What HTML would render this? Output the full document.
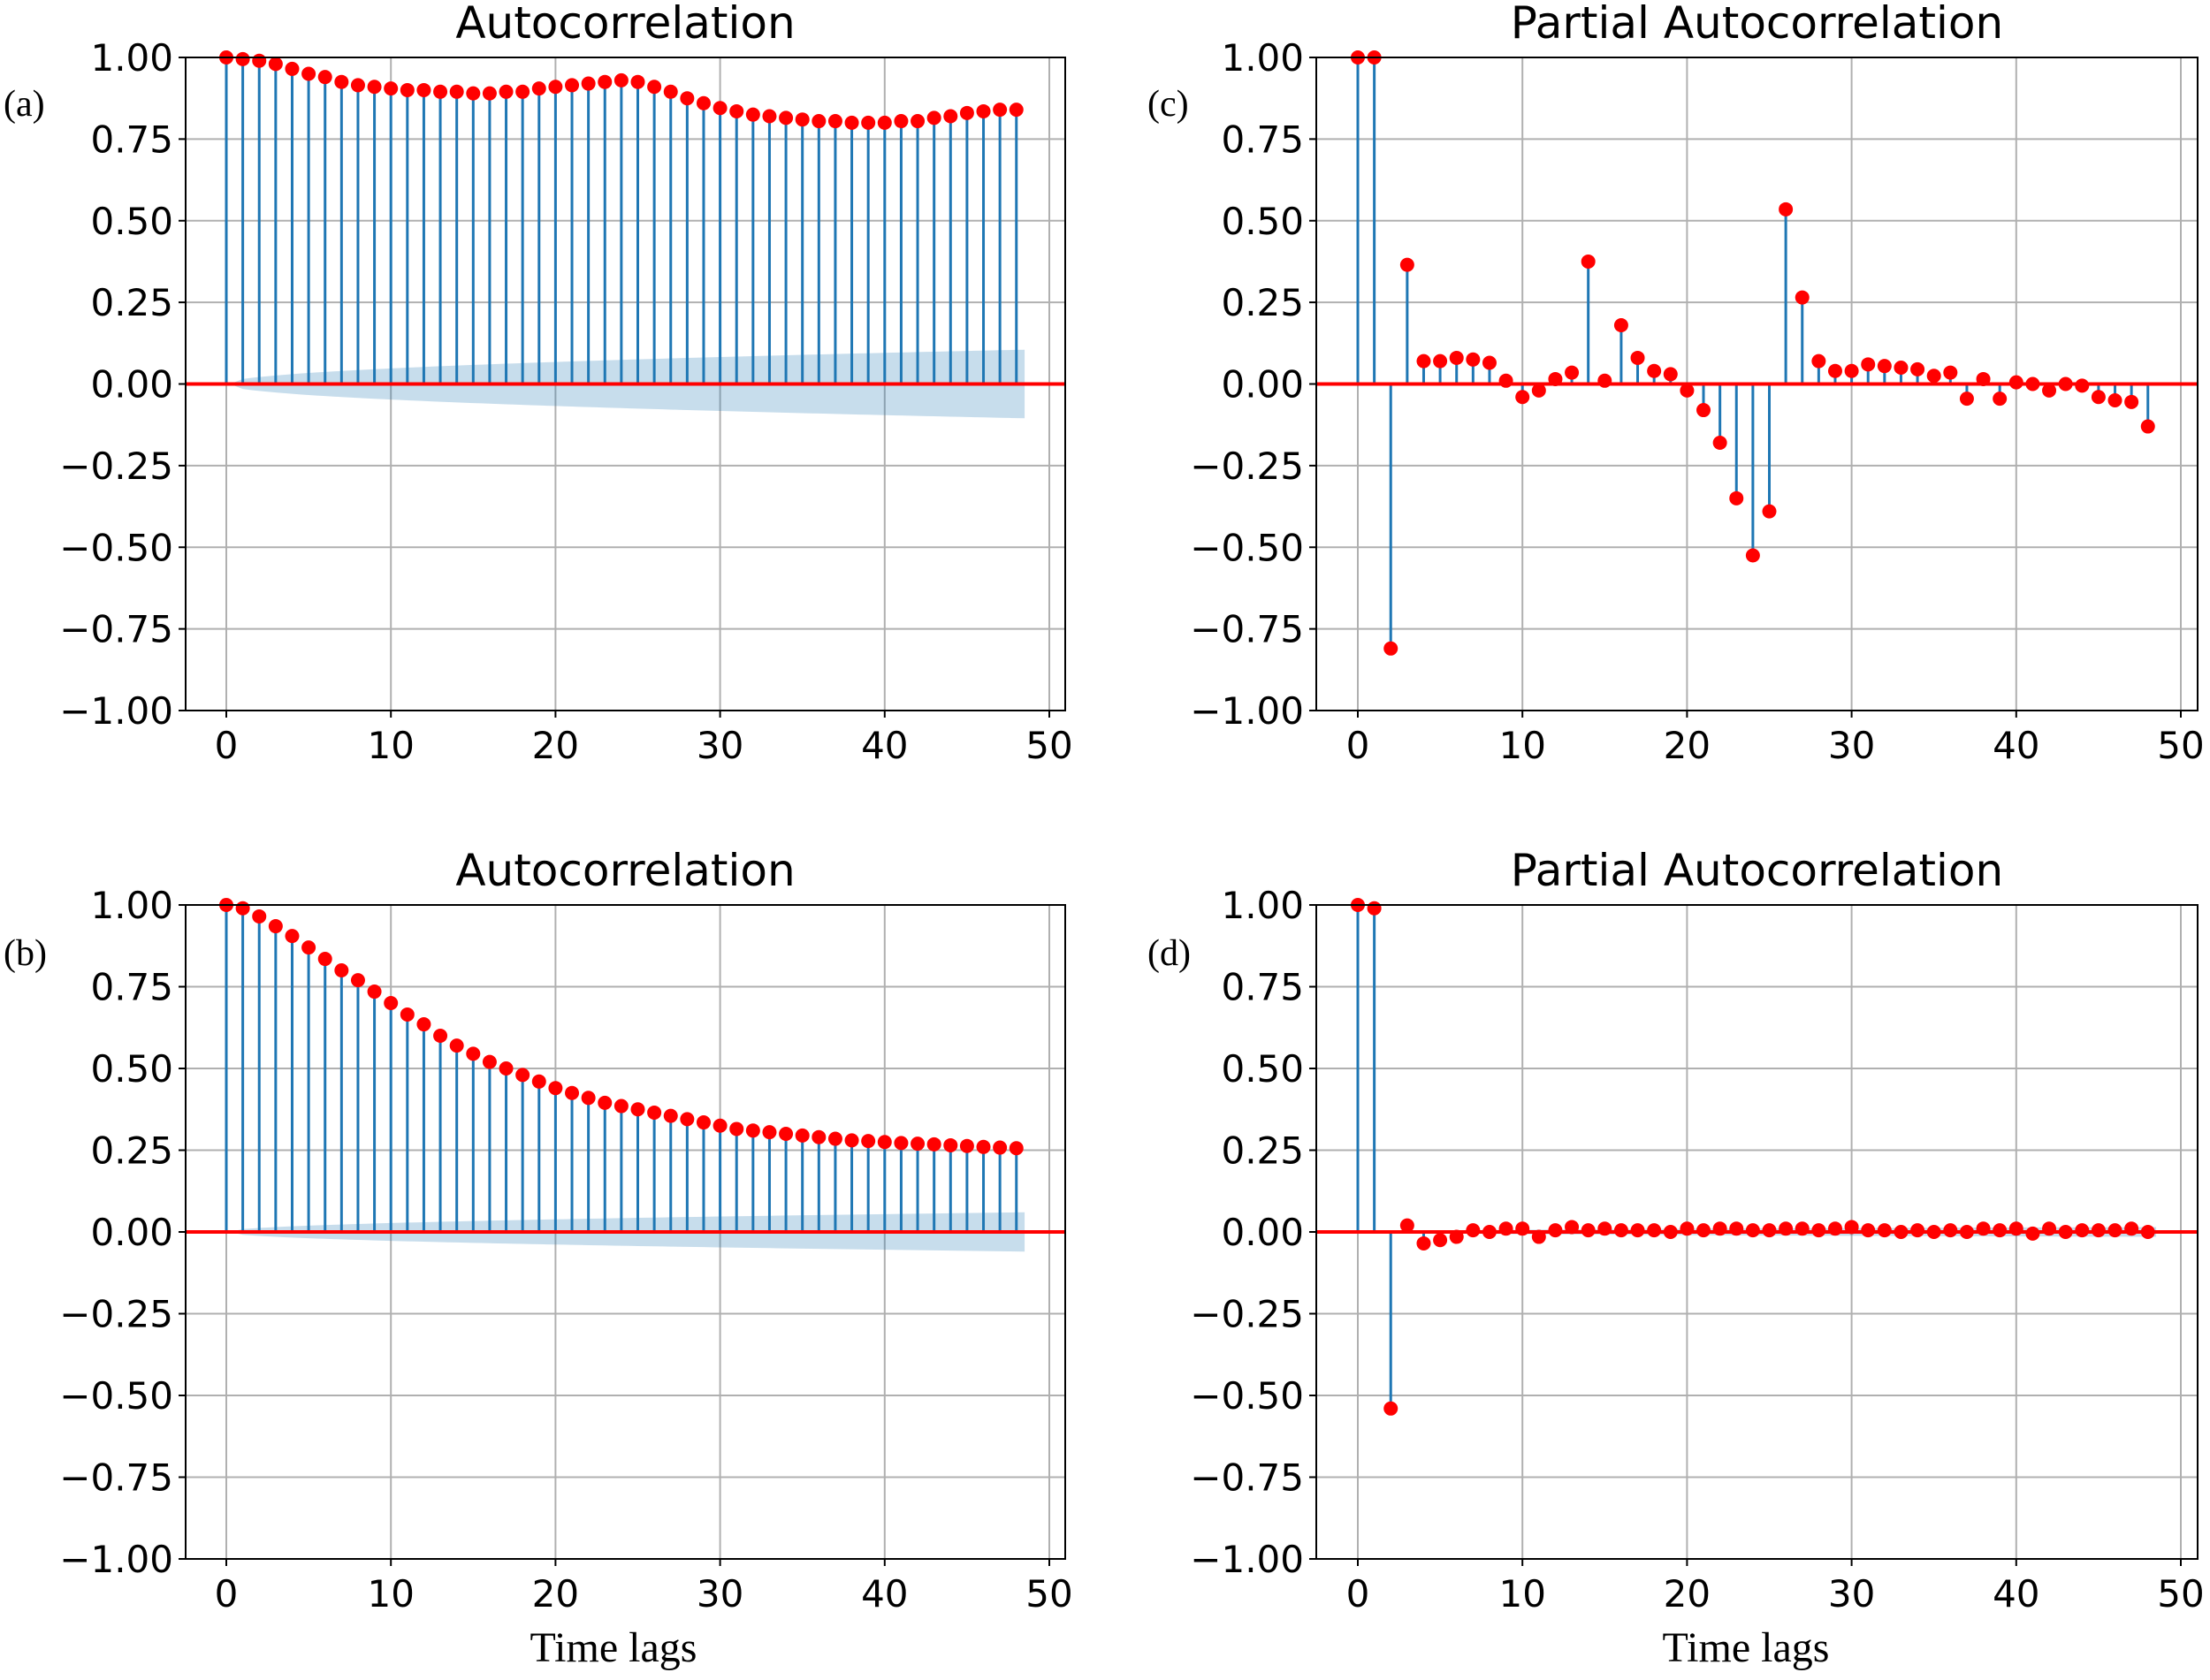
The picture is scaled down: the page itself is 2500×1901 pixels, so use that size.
<!DOCTYPE html>
<html><head><meta charset="utf-8"><style>
html,body{margin:0;padding:0;background:#fff;}
svg{display:block;}
</style></head><body>
<svg id="s" width="2500" height="1901" xmlns="http://www.w3.org/2000/svg"></svg>
<script>
const A=[1.0,.995,.99,.98,.965,.95,.94,.925,.915,.91,.905,.9,.9,.895,.895,.89,.89,.895,.895,.905,.91,.915,.92,.925,.93,.925,.91,.895,.875,.86,.845,.835,.825,.82,.815,.81,.805,.805,.8,.8,.8,.805,.805,.815,.82,.83,.835,.84,.84];
const B=[1.0,.99,.965,.935,.905,.87,.835,.8,.77,.735,.70,.665,.635,.6,.57,.545,.52,.5,.48,.46,.44,.425,.41,.395,.385,.375,.365,.355,.345,.335,.325,.315,.31,.305,.30,.295,.29,.285,.28,.278,.275,.272,.27,.268,.265,.263,.26,.258,.256];
const C=[1.0,1.0,-.81,.365,.07,.07,.08,.075,.065,.01,-.04,-.02,.015,.035,.375,.01,.18,.08,.04,.03,-.02,-.08,-.18,-.35,-.525,-.39,.535,.265,.07,.04,.04,.06,.055,.05,.045,.025,.035,-.045,.015,-.045,.005,0,-.02,0,-.005,-.04,-.05,-.055,-.13];
const D=[1,.99,-.54,.02,-.035,-.025,-.015,.005,0,.01,.01,-.015,.005,.015,.005,.01,.005,.005,.005,0,.01,.005,.01,.01,.005,.005,.01,.01,.005,.01,.015,.005,.005,0,.005,0,.005,0,.01,.005,.01,-.005,.01,0,.005,.005,.005,.01,0];
let h='';
function panel(L,T,R,Bt,x0,x50,data,band,title,lab,labx,laby){
  const sx=v=>x0+(x50-x0)*v/50, sy=v=>T+(Bt-T)*(1-v)/2;
  for(let i=0;i<=5;i++){const x=sx(i*10);h+=`<line x1="${x}" y1="${T}" x2="${x}" y2="${Bt}" stroke="#b0b0b0" stroke-width="2"/>`;}
  for(let i=0;i<=8;i++){const v=1-i*0.25,y=sy(v);h+=`<line x1="${L}" y1="${y}" x2="${R}" y2="${y}" stroke="#b0b0b0" stroke-width="2"/>`;
    h+=`<line x1="${L-8}" y1="${y}" x2="${L}" y2="${y}" stroke="#000" stroke-width="2"/>`;
    h+=`<text x="${L-14}" y="${y+15}" text-anchor="end" font-size="42" font-family="DejaVu Sans, sans-serif">${(v<0?'\u2212':'')+Math.abs(v).toFixed(2)}</text>`;}
  for(let i=0;i<=5;i++){const x=sx(i*10);h+=`<line x1="${x}" y1="${Bt}" x2="${x}" y2="${Bt+8}" stroke="#000" stroke-width="2"/>`;
    h+=`<text x="${x}" y="${Bt+54}" text-anchor="middle" font-size="42" font-family="DejaVu Sans, sans-serif">${i*10}</text>`;}
  if(band){let up=[],dn=[];for(let k=0;k<=97;k++){const l=k/2;const b=band*Math.pow(l/48.5,0.5)*(l<1?l:1);up.push(`${sx(l)},${sy(b)}`);dn.unshift(`${sx(l)},${sy(-b)}`);}
    up.push(`${sx(48.5)},${sy(band)}`);dn.unshift(`${sx(48.5)},${sy(-band)}`);
    h+=`<polygon points="${up.join(' ')} ${dn.join(' ')}" fill="#1f77b4" fill-opacity="0.25"/>`;}
  data.forEach((v,i)=>{h+=`<line x1="${sx(i)}" y1="${sy(0)}" x2="${sx(i)}" y2="${sy(v)}" stroke="#1f77b4" stroke-width="3"/>`;});
  h+=`<line x1="${L}" y1="${sy(0)}" x2="${R}" y2="${sy(0)}" stroke="#f00" stroke-width="4"/>`;
  data.forEach((v,i)=>{h+=`<circle cx="${sx(i)}" cy="${sy(v)}" r="8" fill="#f00"/>`;});
  h+=`<rect x="${L}" y="${T}" width="${R-L}" height="${Bt-T}" fill="none" stroke="#000" stroke-width="2"/>`;
  h+=`<text x="${(L+R)/2}" y="${T-22}" text-anchor="middle" font-size="50" font-family="DejaVu Sans, sans-serif">${title}</text>`;
  h+=`<text x="${labx}" y="${laby}" font-size="42" font-family="Liberation Serif, serif">${lab}</text>`;
}
panel(210,65,1205,804,256,1187,A,0.105,'Autocorrelation','(a)',4,131);
panel(1489,65,2486,804,1536,2467,C,0,'Partial Autocorrelation','(c)',1298,131);
panel(210,1024,1205,1764,256,1187,B,0.06,'Autocorrelation','(b)',4,1092);
panel(1489,1024,2486,1764,1536,2467,D,0.015,'Partial Autocorrelation','(d)',1298,1092);
h+=`<text x="694" y="1880" text-anchor="middle" font-size="48" font-family="Liberation Serif, serif">Time lags</text>`;
h+=`<text x="1975" y="1880" text-anchor="middle" font-size="48" font-family="Liberation Serif, serif">Time lags</text>`;
document.getElementById('s').innerHTML=h;
</script>
</body></html>
